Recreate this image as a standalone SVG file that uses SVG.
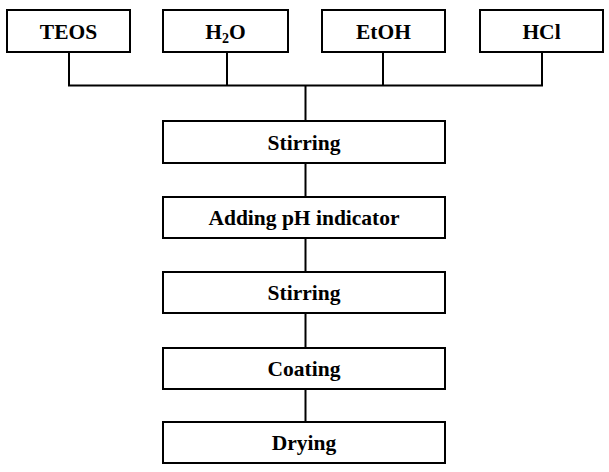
<svg xmlns="http://www.w3.org/2000/svg" width="609" height="472" viewBox="0 0 609 472">
<style>
rect{fill:#fff;stroke:#000;stroke-width:2}
text{font-family:"Liberation Serif","Times New Roman",serif;font-weight:bold;font-size:21.5px;text-anchor:middle;fill:#000}
.c{fill:none;stroke:#000;stroke-width:2}
</style>
<rect width="609" height="472" style="stroke:none"/>
<g id="connectors">
<path class="c" d="M69 52V85.5M227 52V85.5M383 52V85.5M542 52V85.5M68 85.5H543M305.5 85.5V121M305.5 163V197M305.5 238V272M305.5 313V348M305.5 389V422"/>
</g>
<g id="teos"><rect x="7" y="10" width="123" height="42"/><text x="68.5" y="39">TEOS</text></g>
<g id="h2o"><rect x="163" y="10" width="125" height="42"/><text x="225.5" y="39">H<tspan font-size="14" dy="4">2</tspan><tspan dy="-4">O</tspan></text></g>
<g id="etoh"><rect x="322" y="10" width="123" height="42"/><text x="383.5" y="39">EtOH</text></g>
<g id="hcl"><rect x="480" y="10" width="123" height="42"/><text x="541.5" y="39">HCl</text></g>
<g id="stirring1"><rect x="163" y="121" width="282" height="42"/><text x="304" y="149.5">Stirring</text></g>
<g id="adding"><rect x="163" y="197" width="282" height="41"/><text x="304" y="225">Adding pH indicator</text></g>
<g id="stirring2"><rect x="163" y="272" width="282" height="41"/><text x="304" y="300">Stirring</text></g>
<g id="coating"><rect x="163" y="348" width="282" height="41"/><text x="304" y="376">Coating</text></g>
<g id="drying"><rect x="163" y="422" width="282" height="41"/><text x="304" y="450">Drying</text></g>
</svg>
